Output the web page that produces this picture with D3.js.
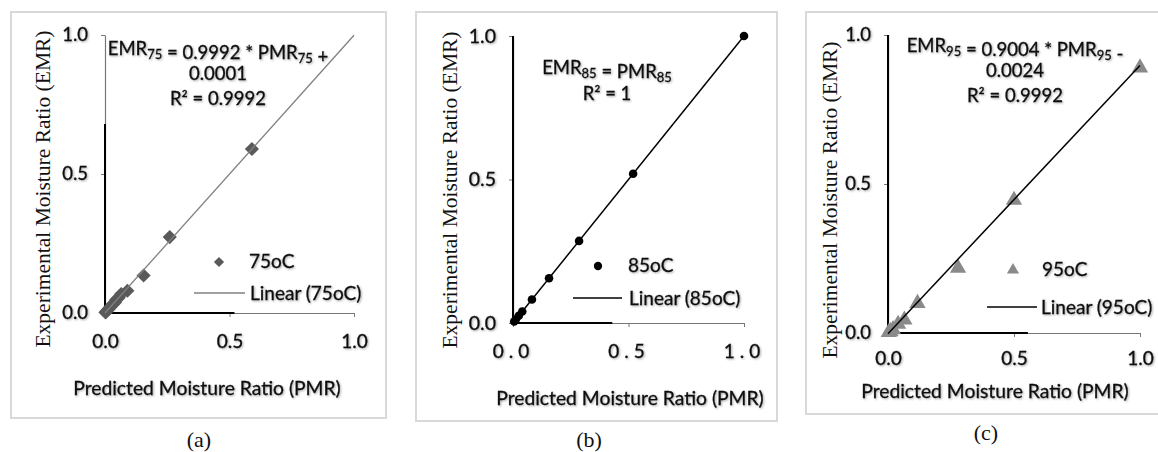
<!DOCTYPE html>
<html>
<head>
<meta charset="utf-8">
<script src="https://cdn.jsdelivr.net/npm/d3@7"></script>
<style>
  html, body { margin: 0; padding: 0; background: #fff; }
  svg { display: block; }
</style>
</head>
<body>
<svg id="chart" width="1158" height="452"></svg>
<script>
// ---- data ----
const axisTicks = [0, 0.5, 1.0];
const panelLabels = ["(a)", "(b)", "(c)"];
const tempCodes = ["75", "85", "95"];
const seriesNames = ["75oC", "85oC", "95oC"];
const fitSlope = [0.9992, 1, 0.9004];
const fitIntercept = [0.0001, 0, -0.0024];
const fitR2 = ["0.9992", "1", "0.9992"];

const pmr75 = [0.59, 0.26, 0.155, 0.09, 0.065, 0.055, 0.045, 0.04, 0.033, 0.027, 0.02, 0.015, 0.01, 0.005, 0.002];
const emr75 = [0.59, 0.273, 0.135, 0.08, 0.068, 0.055, 0.048, 0.038, 0.033, 0.027, 0.02, 0.015, 0.01, 0.005, 0.002];

const pmr85 = [1.0, 0.52, 0.286, 0.156, 0.082, 0.04, 0.025, 0.012, 0.005];
const emr85 = [1.0, 0.52, 0.286, 0.156, 0.082, 0.04, 0.025, 0.012, 0.005];

const pmr95 = [1.0, 0.5, 0.278, 0.117, 0.065, 0.04, 0.02, 0.01, 0.003];
const emr95 = [0.89, 0.446, 0.218, 0.1, 0.044, 0.03, 0.012, 0.005, 0.002];

// ---- layout of the three panels ----
const panels = [
  {
    pmr: pmr75, emr: emr75, symbol: "diamond", markColor: "#5a5a5a", lineColor: "#808080", lineWidth: 1.3,
    frame: [11, 12, 386, 418], xRange: [105, 354], yRange: [313, 35],
    xBlackTo: 0.52, yBlackTo: 0.68, yDomainColor: "#777",
    eq: { cx: 218, y: [55, 80, 105] },
    xTitle: { cx: 207, y: 395 }, yTitle: { cx: 43, cy: 189 },
    caption: { cx: 199, y: 447 },
    legend: { mx: 219, my: 262, tx: 249, ty: 268, lx0: 194, lx1: 245, ly: 293, ltx: 250, lty: 300 },
    xLetterSpacing: 0, yTickSize: 18.5, xTickPad: 18
  },
  {
    pmr: pmr85, emr: emr85, symbol: "circle", markColor: "#000", lineColor: "#000", lineWidth: 1.5,
    frame: [416, 12, 777, 421], xRange: [513, 744], yRange: [323, 36],
    xBlackTo: 0.43, yBlackTo: 1.0, yDomainColor: "#000",
    eq: { cx: 607, y: [74, 100] },
    xTitle: { cx: 630, y: 405 }, yTitle: { cx: 450, cy: 190 },
    caption: { cx: 589, y: 447 },
    legend: { mx: 598, my: 266, tx: 628, ty: 272, lx0: 573, lx1: 622, ly: 298, ltx: 629, lty: 305 },
    xLetterSpacing: 5, yTickSize: 19.5, xTickPad: 18
  },
  {
    pmr: pmr95, emr: emr95, symbol: "triangle", markColor: "#8a8a8a", lineColor: "#000", lineWidth: 1.5,
    frame: [806, 12, 1162, 414], xRange: [888, 1140], yRange: [333, 35],
    xBlackTo: 0.555, yBlackTo: 1.0, yDomainColor: "#000",
    eq: { cx: 1015, y: [52, 77, 102] },
    xTitle: { cx: 995, y: 398 }, yTitle: { cx: 830, cy: 200 },
    caption: { cx: 986, y: 440 },
    legend: { mx: 1013, my: 270, tx: 1042, ty: 276, lx0: 987, lx1: 1037, ly: 307, ltx: 1041, lty: 314 },
    xLetterSpacing: 0, yTickSize: 18.5, xTickPad: 15
  }
];

const SANS = "Lato, 'Open Sans', sans-serif";
const SERIF = "'Liberation Serif', 'DejaVu Serif', serif";
const TEXT = "#111";

const svg = d3.select("#chart");

// soft shadow behind the label text
const defs = svg.append("defs");
defs.append("filter").attr("id", "soft").attr("x", "-5%").attr("y", "-20%").attr("width", "115%").attr("height", "150%")
  .append("feDropShadow").attr("dx", 1).attr("dy", 1).attr("stdDeviation", 0.9)
  .attr("flood-color", "#000").attr("flood-opacity", 0.35);

// sans labels: slightly heavier strokes plus the soft shadow
function sansLabel(sel, size) {
  return sel.attr("font-family", SANS).attr("font-size", size)
    .attr("fill", TEXT).attr("stroke", TEXT).attr("stroke-width", 0.3)
    .attr("filter", "url(#soft)");
}

function symbolPath(kind, big) {
  if (kind === "diamond") return d3.symbol(d3.symbolSquare, big ? 100 : 52)();
  if (kind === "circle") return d3.symbol(d3.symbolCircle, big ? 58 : 54)();
  return d3.symbol(d3.symbolTriangle, big ? 115 : 64)();
}
const symbolRotate = kind => (kind === "diamond" ? 45 : 0);

panels.forEach((p, i) => {
  const g = svg.append("g");
  const [fx0, fy0, fx1, fy1] = p.frame;

  // panel frame
  g.append("rect")
    .attr("x", fx0).attr("y", fy0).attr("width", fx1 - fx0).attr("height", fy1 - fy0)
    .attr("fill", "#fff").attr("stroke", "#d9d9d9").attr("stroke-width", 2);

  const x = d3.scaleLinear().domain([0, 1]).range(p.xRange);
  const y = d3.scaleLinear().domain([0, 1]).range(p.yRange);
  const fmt = d3.format(".1f");

  // y axis
  const gy = g.append("g").attr("transform", `translate(${x(0)},0)`)
    .call(d3.axisLeft(y).tickValues(axisTicks).tickFormat(fmt).tickSize(4).tickSizeOuter(0).tickPadding(13));
  gy.select(".domain").attr("stroke", p.yDomainColor).attr("stroke-width", 1.2);
  gy.selectAll(".tick line").attr("stroke", "#777");
  sansLabel(gy.selectAll(".tick text"), p.yTickSize);

  // x axis
  const gx = g.append("g").attr("transform", `translate(0,${y(0)})`)
    .call(d3.axisBottom(x).tickValues(axisTicks).tickFormat(fmt).tickSize(4).tickSizeOuter(0).tickPadding(p.xTickPad));
  gx.select(".domain").attr("stroke", "#777").attr("stroke-width", 1.2);
  gx.selectAll(".tick line").attr("stroke", "#777");
  sansLabel(gx.selectAll(".tick text"), 19).attr("letter-spacing", p.xLetterSpacing);

  // heavier black stretches of the axis lines
  g.append("line")
    .attr("x1", x(0)).attr("x2", x(0)).attr("y1", y(0)).attr("y2", y(p.yBlackTo))
    .attr("stroke", "#000").attr("stroke-width", 2);
  g.append("line")
    .attr("x1", x(0)).attr("x2", x(p.xBlackTo)).attr("y1", y(0)).attr("y2", y(0))
    .attr("stroke", "#000").attr("stroke-width", 2);

  // data markers
  const pts = p.pmr.map((v, k) => ({ pmr: v, emr: p.emr[k] }));
  g.append("g").selectAll("path").data(pts).join("path")
    .attr("d", symbolPath(p.symbol, true))
    .attr("transform", d => `translate(${x(d.pmr)},${y(d.emr)}) rotate(${symbolRotate(p.symbol)})`)
    .attr("fill", p.markColor);

  // linear trend line from the fitted equation
  const fit = v => fitSlope[i] * v + fitIntercept[i];
  g.append("path")
    .datum([0, 1])
    .attr("d", d3.line().x(v => x(v)).y(v => y(fit(v))))
    .attr("fill", "none").attr("stroke", p.lineColor).attr("stroke-width", p.lineWidth);

  // fitted equation text
  const eqText = sansLabel(g.append("g"), 18.5).attr("text-anchor", "middle");
  const line1 = eqText.append("text").attr("x", p.eq.cx).attr("y", p.eq.y[0]);
  const sub = (t, s) => {
    t.append("tspan").attr("font-size", 13).attr("dy", 4).text(s);
    t.append("tspan").attr("dy", -4).text("");
  };
  line1.append("tspan").text("EMR");
  sub(line1, tempCodes[i]);
  if (fitSlope[i] === 1 && fitIntercept[i] === 0) {
    line1.append("tspan").text(" = PMR");
    sub(line1, tempCodes[i]);
    eqText.append("text").attr("x", p.eq.cx).attr("y", p.eq.y[1]).text("R² = " + fitR2[i]);
  } else {
    line1.append("tspan").text(" = " + fitSlope[i].toFixed(4) + " * PMR");
    sub(line1, tempCodes[i]);
    line1.append("tspan").text(fitIntercept[i] >= 0 ? " +" : " -");
    eqText.append("text").attr("x", p.eq.cx).attr("y", p.eq.y[1]).text(Math.abs(fitIntercept[i]).toFixed(4));
    eqText.append("text").attr("x", p.eq.cx).attr("y", p.eq.y[2]).text("R² = " + fitR2[i]);
  }

  // legend
  const L = p.legend;
  g.append("path").attr("d", symbolPath(p.symbol, false))
    .attr("transform", `translate(${L.mx},${L.my}) rotate(${symbolRotate(p.symbol)})`)
    .attr("fill", p.markColor);
  sansLabel(g.append("text").attr("x", L.tx).attr("y", L.ty), 19).text(seriesNames[i]);
  g.append("line").attr("x1", L.lx0).attr("x2", L.lx1).attr("y1", L.ly).attr("y2", L.ly)
    .attr("stroke", p.lineColor).attr("stroke-width", p.lineWidth);
  sansLabel(g.append("text").attr("x", L.ltx).attr("y", L.lty), 19).text(`Linear (${seriesNames[i]})`);

  // axis titles
  sansLabel(g.append("text").attr("x", p.xTitle.cx).attr("y", p.xTitle.y), 19.3)
    .attr("text-anchor", "middle")
    .text("Predicted Moisture Ratio (PMR)");
  g.append("text")
    .attr("transform", `translate(${p.yTitle.cx + 7},${p.yTitle.cy}) rotate(-90)`)
    .attr("text-anchor", "middle").attr("font-family", SERIF).attr("font-size", 21.5)
    .attr("fill", "#111")
    .text("Experimental Moisture Ratio (EMR)");

  // panel caption
  svg.append("text").attr("x", p.caption.cx).attr("y", p.caption.y)
    .attr("text-anchor", "middle").attr("font-family", SERIF).attr("font-size", 22)
    .attr("fill", "#111").text(panelLabels[i]);
});
</script>
</body>
</html>
